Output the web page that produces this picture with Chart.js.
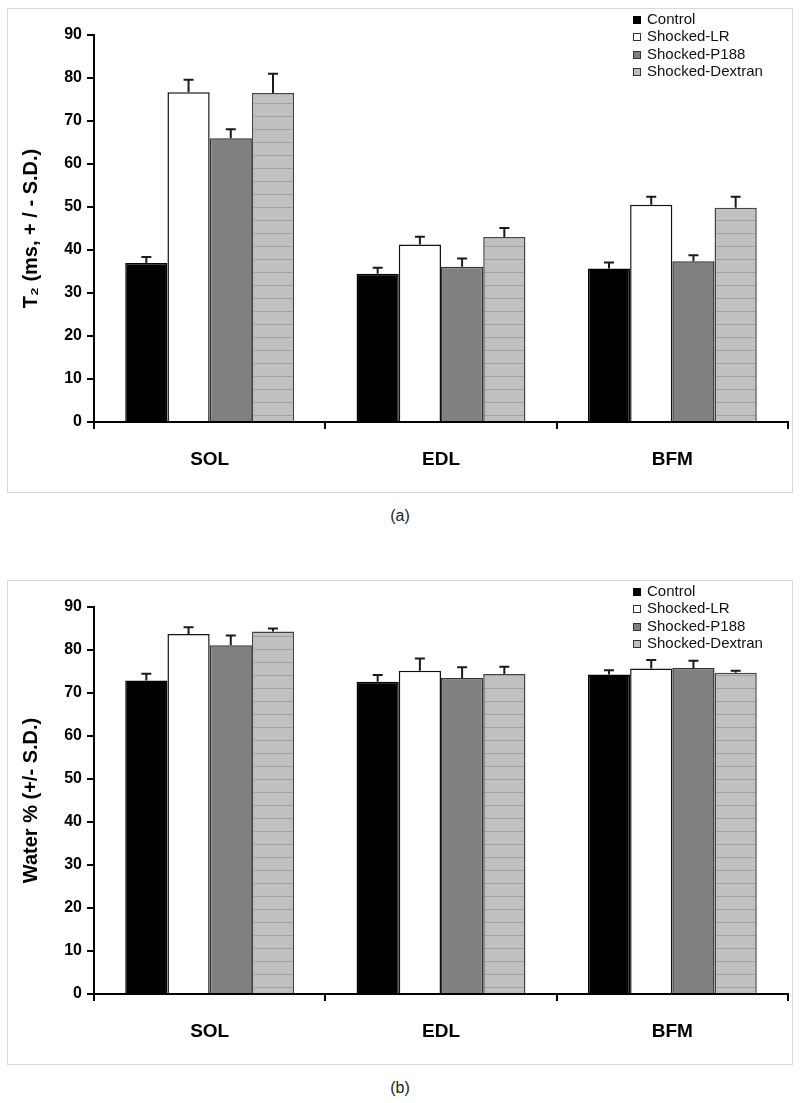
<!DOCTYPE html>
<html>
<head>
<meta charset="utf-8">
<title>T2 and water content</title>
<script src="https://cdn.jsdelivr.net/npm/chart.js"></script>
<style>
  body { margin: 0; background: #fff; font-family: "Liberation Sans", Arial, sans-serif; }
  #page { position: relative; width: 800px; height: 1103px; }
  .panel { position: absolute; left: 7px; width: 786px; border: 1px solid #d8d8d8; box-sizing: border-box; }
  .chartbox { position: absolute; left: 0; width: 800px; height: 500px; }
  .caption { position: absolute; left: 0; width: 800px; text-align: center; font-size: 16px; color: #222; }
  .legend { position: absolute; left: 633px; font-size: 15px; color: #111; }
  .legend div { height: 17.3px; line-height: 17.3px; white-space: nowrap; }
  .legend span { display: inline-block; width: 8px; height: 8px; box-sizing: border-box; margin-right: 6px; vertical-align: 0px; }
</style>
</head>
<body>
<div id="page">
  <div class="panel" style="top:8px;height:485px"></div>
  <div class="panel" style="top:580px;height:485px"></div>
  <div class="chartbox" style="top:0"><canvas id="chartT2"></canvas></div>
  <div class="chartbox" style="top:572px"><canvas id="chartWater"></canvas></div>
  <div class="legend" id="legendT2" style="top:10px"></div>
  <div class="legend" id="legendWater" style="top:582px"></div>
  <div class="caption" style="top:507px">(a)</div>
  <div class="caption" style="top:1079px">(b)</div>
</div>
<script>
// muscles and groups
const categories = ['SOL', 'EDL', 'BFM'];
const groups = ['Control', 'Shocked-LR', 'Shocked-P188', 'Shocked-Dextran'];

// (a) T2 in ms, mean and S.D. per muscle
const t2Control = [37.0, 34.5, 35.7];
const t2LR = [76.7, 41.3, 50.5];
const t2P188 = [66.0, 36.1, 37.4];
const t2Dextran = [76.5, 43.0, 49.8];
const t2ControlSD = [1.4, 1.4, 1.4];
const t2LRSD = [2.9, 1.8, 1.9];
const t2P188SD = [2.1, 1.9, 1.4];
const t2DextranSD = [4.5, 2.1, 2.6];

// (b) water %, mean and S.D. per muscle
const waterControl = [72.9, 72.6, 74.3];
const waterLR = [83.7, 75.2, 75.7];
const waterP188 = [81.1, 73.5, 75.8];
const waterDextran = [84.3, 74.4, 74.7];
const waterControlSD = [1.6, 1.6, 1.0];
const waterLRSD = [1.6, 2.8, 2.0];
const waterP188SD = [2.3, 2.5, 1.7];
const waterDextranSD = [0.7, 1.7, 0.5];

const yTicks = [0, 10, 20, 30, 40, 50, 60, 70, 80, 90];

const FONT = '"Liberation Sans", Arial, sans-serif';

// light grey fill with thin horizontal lines for the Dextran bars
function stripes() {
  const c = document.createElement('canvas');
  c.width = 4; c.height = 13;
  const g = c.getContext('2d');
  g.fillStyle = '#c0c0c0';
  g.fillRect(0, 0, 4, 13);
  g.fillStyle = '#a0a0a0';
  g.fillRect(0, 12, 4, 1);
  return g.createPattern(c, 'repeat');
}

const fills = ['#000000', '#ffffff', '#808080', null];
const edges = ['#000000', '#111111', '#333333', '#444444'];
const legendFills = ['#000000', '#ffffff', '#808080', '#c0c0c0'];

// upper half error bars, drawn from the y scale
const errorBars = {
  id: 'errorBars',
  afterDatasetsDraw(chart) {
    const ctx = chart.ctx;
    const y = chart.scales.y;
    chart.data.datasets.forEach((ds, i) => {
      chart.getDatasetMeta(i).data.forEach((bar, j) => {
        const top = y.getPixelForValue(ds.data[j] + ds.sd[j]);
        ctx.save();
        ctx.strokeStyle = '#1a1a1a';
        ctx.lineWidth = 2;
        ctx.beginPath();
        ctx.moveTo(bar.x, bar.y);
        ctx.lineTo(bar.x, top);
        ctx.moveTo(bar.x - 5, top);
        ctx.lineTo(bar.x + 5, top);
        ctx.stroke();
        ctx.restore();
      });
    });
  }
};

function makeLegend(id) {
  const el = document.getElementById(id);
  groups.forEach((g, i) => {
    const row = document.createElement('div');
    const box = document.createElement('span');
    box.style.background = legendFills[i];
    box.style.border = '1px solid ' + (i === 0 ? '#000' : '#333');
    row.appendChild(box);
    row.appendChild(document.createTextNode(g));
    el.appendChild(row);
  });
}

function makeChart(id, title, series, sds) {
  const pattern = stripes();
  const datasets = groups.map((g, i) => ({
    label: g,
    data: series[i],
    sd: sds[i],
    backgroundColor: fills[i] || pattern,
    borderColor: edges[i],
    borderWidth: 1.5,
    categoryPercentage: 0.73,
    barPercentage: 1.0
  }));
  return new Chart(document.getElementById(id), {
    type: 'bar',
    data: { labels: categories, datasets },
    plugins: [errorBars],
    options: {
      responsive: true,
      maintainAspectRatio: false,
      animation: false,
      layout: { padding: { left: 7, right: 12, top: 35, bottom: 28 } },
      plugins: { legend: { display: false }, tooltip: { enabled: false } },
      scales: {
        x: {
          afterFit(scale) { scale.height = 50; },
          grid: { drawOnChartArea: false, drawTicks: true, tickLength: 7, color: '#000', lineWidth: 2, offset: true },
          border: { color: '#000', width: 2 },
          ticks: { color: '#000', padding: 19, font: { family: FONT, size: 19, weight: 'bold' } }
        },
        y: {
          min: 0,
          max: 90,
          afterFit(scale) { scale.width = 87; },
          afterBuildTicks(scale) { scale.ticks = yTicks.map(v => ({ value: v })); },
          grid: { drawOnChartArea: false, drawTicks: true, tickLength: 7, color: '#000', lineWidth: 2 },
          border: { color: '#000', width: 2 },
          ticks: { color: '#000', padding: 5, font: { family: FONT, size: 16, weight: 'bold' } },
          title: { display: true, text: title, color: '#000', padding: { top: 12, bottom: 0 }, font: { family: FONT, size: 20, weight: 'bold' } }
        }
      }
    }
  });
}

makeChart('chartT2', 'T\u2082 (ms, + / - S.D.)',
  [t2Control, t2LR, t2P188, t2Dextran],
  [t2ControlSD, t2LRSD, t2P188SD, t2DextranSD]);
makeChart('chartWater', 'Water % (+/- S.D.)',
  [waterControl, waterLR, waterP188, waterDextran],
  [waterControlSD, waterLRSD, waterP188SD, waterDextranSD]);
makeLegend('legendT2');
makeLegend('legendWater');
</script>
</body>
</html>
